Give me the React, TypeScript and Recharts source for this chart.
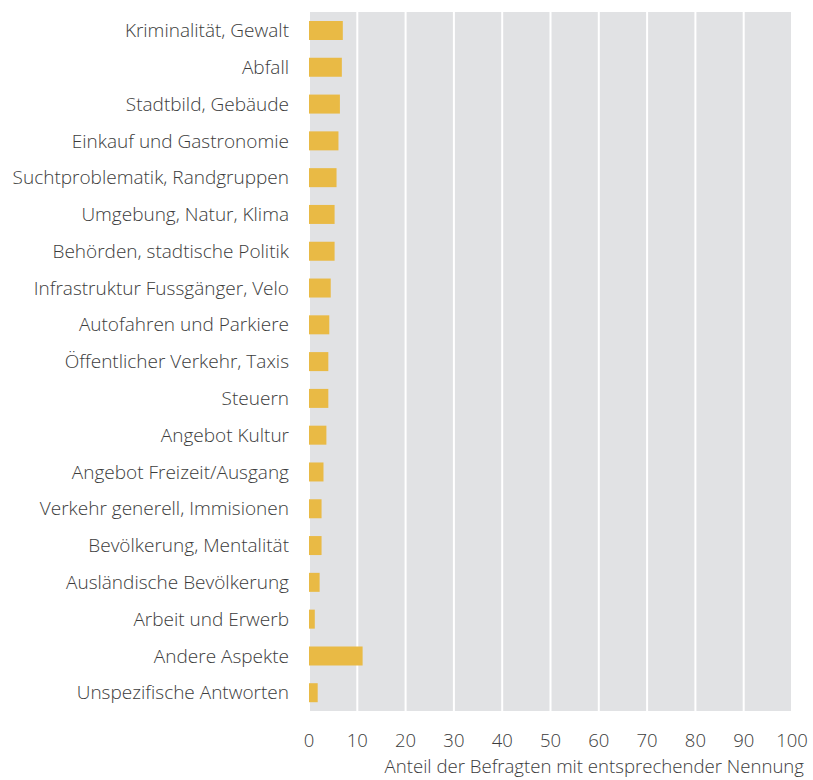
import React from 'react';
import { BarChart, Bar, XAxis, YAxis, CartesianGrid } from 'recharts';

const categories = [
  'Kriminalität, Gewalt',
  'Abfall',
  'Stadtbild, Gebäude',
  'Einkauf und Gastronomie',
  'Suchtproblematik, Randgruppen',
  'Umgebung, Natur, Klima',
  'Behörden, stadtische Politik',
  'Infrastruktur Fussgänger, Velo',
  'Autofahren und Parkiere',
  'Öffentlicher Verkehr, Taxis',
  'Steuern',
  'Angebot Kultur',
  'Angebot Freizeit/Ausgang',
  'Verkehr generell, Immisionen',
  'Bevölkerung, Mentalität',
  'Ausländische Bevölkerung',
  'Arbeit und Erwerb',
  'Andere Aspekte',
  'Unspezifische Antworten',
];

const values = [7.0, 6.8, 6.4, 6.1, 5.7, 5.3, 5.3, 4.5, 4.2, 4.0, 4.0, 3.6, 3.0, 2.6, 2.6, 2.2, 1.2, 11.1, 1.8];

const xTicks = [0, 10, 20, 30, 40, 50, 60, 70, 80, 90, 100];
const axisTitle = 'Anteil der Befragten mit entsprechender Nennung';

const data = categories.map((c, i) => ({ name: c, value: values[i] }));

const FONT = '"Open Sans", sans-serif';
const TEXT = '#3c3c3c';

const AxisTitle = (props: any) => {
  const vb = props.viewBox || {};
  return (
    <text
      x={vb.x + vb.width + 12}
      y={vb.y + vb.height - 7}
      textAnchor="end"
      fill={TEXT}
      fontFamily={FONT}
      fontWeight={300}
      fontSize={18.6}
    >
      {axisTitle}
    </text>
  );
};

export default function App() {
  return (
    <div style={{ position: 'absolute', left: 0, top: 0, background: '#fff' }}>
      <BarChart
        width={813}
        height={780}
        data={data}
        layout="vertical"
        margin={{ top: 12, right: 21, left: 0, bottom: 0 }}
      >
        <CartesianGrid
          horizontal={false}
          vertical={true}
          stroke="#ffffff"
          strokeWidth={2}
          fill="#e1e2e4"
          fillOpacity={1}
        />
        <XAxis
          type="number"
          domain={[0, 100]}
          ticks={xTicks}
          interval={0}
          axisLine={false}
          tickLine={false}
          height={69}
          tickMargin={17}
          tick={{ fill: TEXT, fontFamily: FONT, fontWeight: 300, fontSize: 18.5 }}
          label={<AxisTitle />}
        />
        <YAxis
          type="category"
          dataKey="name"
          width={309}
          interval={0}
          axisLine={false}
          tickLine={false}
          tickMargin={14}
          tick={{ fill: TEXT, fontFamily: FONT, fontWeight: 300, fontSize: 19 }}
        />
        <Bar dataKey="value" fill="#e9ba45" barSize={19} isAnimationActive={false} />
      </BarChart>
    </div>
  );
}
